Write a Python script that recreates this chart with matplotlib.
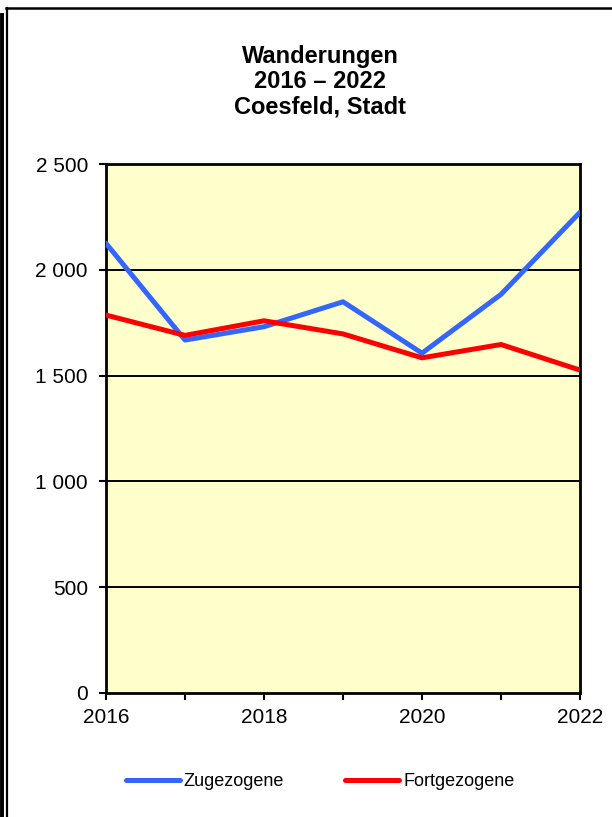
import numpy as np
import matplotlib
matplotlib.use('Agg')
import matplotlib.pyplot as plt
from matplotlib.lines import Line2D

plt.rcParams['font.family'] = ['Liberation Sans', 'DejaVu Sans']

years = [2016, 2017, 2018, 2019, 2020, 2021, 2022]
zugezogene = [2125, 1668, 1731, 1849, 1606, 1884, 2272]
fortgezogene = [1786, 1690, 1759, 1697, 1584, 1647, 1526]
yticks = [0, 500, 1000, 1500, 2000, 2500]

W, H = 612, 817
fig = plt.figure(figsize=(W / 100, H / 100), dpi=100)
ax = fig.add_axes([106 / W, 1 - 693 / H, 474 / W, 529 / H])
ax.set_facecolor('#FFFFCC')

# frame around the chart
fig.add_artist(Line2D([1.8 / W, 1.8 / W], [0, 1 - 15 / H], color='black', lw=2.8, transform=fig.transFigure))
fig.add_artist(Line2D([6.5 / W, 6.5 / W], [0, 1 - 8 / H], color='black', lw=1.6, transform=fig.transFigure))
fig.add_artist(Line2D([6 / W, 1], [1 - 8 / H, 1 - 8 / H], color='black', lw=1.8, transform=fig.transFigure))

for y in yticks[1:-1]:
    ax.axhline(y, color='black', lw=1.4, zorder=1)

ax.plot(years, zugezogene, color='#3366FF', lw=3.6, label='Zugezogene', zorder=3, solid_capstyle='round')
ax.plot(years, fortgezogene, color='#FF0000', lw=3.6, label='Fortgezogene', zorder=4, solid_capstyle='round')

ax.set_xlim(2016, 2022)
ax.set_ylim(0, 2500)
ax.set_yticks(yticks)
ax.set_yticklabels(['{:,}'.format(v).replace(',', ' ') for v in yticks])
ax.set_xticks(years)
ax.set_xticklabels([str(y) if y % 2 == 0 else '' for y in years])
ax.tick_params(direction='out', length=5, width=1.5, labelsize=15, pad=6)
ax.tick_params(axis='y', pad=8)
for s in ax.spines.values():
    s.set_linewidth(2)

fig.text(320 / W, 1 - 82 / H, 'Wanderungen\n2016 \u2013 2022\nCoesfeld, Stadt', ha='center', va='center',
         fontsize=17, fontweight='bold', linespacing=1.12)

fig.legend(loc='center', bbox_to_anchor=(320 / W, 1 - 782 / H), ncol=2, frameon=False, fontsize=13,
           handlelength=3, handletextpad=0.2, columnspacing=3.4)

fig.savefig('out.png', dpi=100)
